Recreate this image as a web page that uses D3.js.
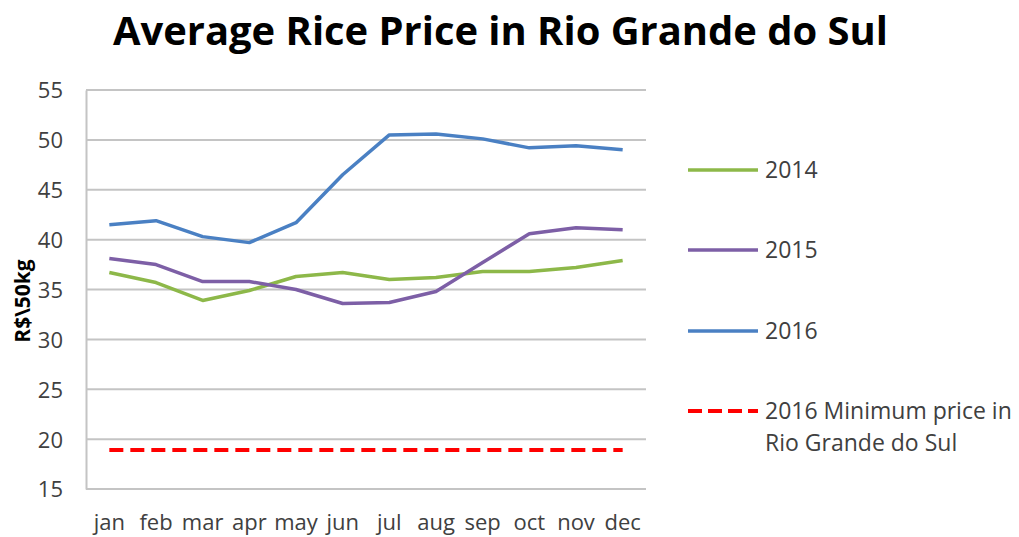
<!DOCTYPE html>
<html>
<head>
<meta charset="utf-8">
<script src="https://cdn.jsdelivr.net/npm/d3@7"></script>
<style>
  body { margin: 0; background: #fff; }
  svg text { font-family: "Open Sans", "DejaVu Sans", sans-serif; fill: #404040; }
</style>
</head>
<body>
<div id="chart"></div>
<script>
// data
var months = ["jan","feb","mar","apr","may","jun","jul","aug","sep","oct","nov","dec"];
var price2014 = [36.7, 35.7, 33.9, 34.9, 36.3, 36.7, 36.0, 36.2, 36.8, 36.8, 37.2, 37.9];
var price2015 = [38.1, 37.5, 35.8, 35.8, 35.0, 33.6, 33.7, 34.8, 37.7, 40.6, 41.2, 41.0];
var price2016 = [41.5, 41.9, 40.3, 39.7, 41.7, 46.5, 50.5, 50.6, 50.1, 49.2, 49.4, 49.0];
var minPrice2016 = [18.9, 18.9, 18.9, 18.9, 18.9, 18.9, 18.9, 18.9, 18.9, 18.9, 18.9, 18.9];
var yTicks = [15, 20, 25, 30, 35, 40, 45, 50, 55];

var series = [
  {name: "2014", values: price2014, color: "#8db849", dash: null},
  {name: "2015", values: price2015, color: "#7d5fa6", dash: null},
  {name: "2016", values: price2016, color: "#4a80c3", dash: null},
  {name: "2016 Minimum price in|Rio Grande do Sul", values: minPrice2016, color: "#ff0000", dash: "14,7"}
];

var width = 1019, height = 537;
var margin = {top: 90, bottom: 48, left: 86, right: 373};

var svg = d3.select('#chart').append("svg")
  .attr('width', width)
  .attr('height', height);

var xscale = d3.scaleBand()
  .domain(months)
  .range([margin.left, width - margin.right]);

var yscale = d3.scaleLinear()
  .domain([15, 55])
  .range([height - margin.bottom, margin.top]);

// title
svg.append("text")
  .attr("x", 113).attr("y", 45)
  .attr("textLength", 775).attr("lengthAdjust", "spacingAndGlyphs")
  .style("font-size", "40px").style("font-weight", "bold").style("fill", "#000")
  .text("Average Rice Price in Rio Grande do Sul");

// gridlines
svg.append("g")
  .selectAll("line").data(yTicks).enter().append("line")
  .attr("x1", margin.left).attr("x2", width - margin.right)
  .attr("y1", function(d){ return yscale(d); })
  .attr("y2", function(d){ return yscale(d); })
  .attr("stroke", "#c4c4c4").attr("stroke-width", 2);

// left axis
var yaxis = d3.axisLeft(yscale).tickValues(yTicks).tickSize(0).tickPadding(23);
var gy = svg.append("g").attr("transform", "translate(" + margin.left + ",0)").call(yaxis);
gy.select(".domain").attr("stroke", "#c4c4c4").attr("stroke-width", 2);
gy.selectAll("text").style("font-size", "22px").attr("dy", "0.36em");

// bottom axis
var xaxis = d3.axisBottom(xscale).tickSize(0).tickPadding(25);
var gx = svg.append("g").attr("transform", "translate(0," + (height - margin.bottom) + ")").call(xaxis);
gx.select(".domain").remove();
gx.selectAll("text").style("font-size", "22px");

// y axis title
svg.append("text")
  .attr("transform", "translate(30,301) rotate(-90)")
  .attr("text-anchor", "middle")
  .style("font-size", "21px").style("font-weight", "bold").style("fill", "#000")
  .text("R$\\50kg");

// lines
var line = d3.line()
  .x(function(d, i){ return xscale(months[i]) + xscale.bandwidth() / 2; })
  .y(function(d){ return yscale(d); });

svg.append("g").selectAll("path").data(series).enter().append("path")
  .attr("fill", "none")
  .attr("stroke", function(d){ return d.color; })
  .attr("stroke-width", function(d){ return d.dash ? 4 : 3.5; })
  .attr("stroke-dasharray", function(d){ return d.dash; })
  .attr("stroke-linejoin", "round")
  .attr("d", function(d){ return line(d.values); });

// legend
var legendY = [170, 250, 331, 411];
var lg = svg.append("g").selectAll("g").data(series).enter().append("g")
  .attr("transform", function(d, i){ return "translate(688," + legendY[i] + ")"; });
lg.append("line")
  .attr("x1", 0).attr("x2", 70)
  .attr("stroke", function(d){ return d.color; })
  .attr("stroke-width", function(d){ return d.dash ? 4 : 3.5; })
  .attr("stroke-dasharray", function(d){ return d.dash ? "14,6" : null; });
lg.each(function(d){
  var t = d3.select(this).append("text")
    .attr("x", 77).attr("y", 0)
    .style("font-size", "23px");
  d.name.split("|").forEach(function(s, k){
    t.append("tspan").attr("x", 77).attr("dy", k === 0 ? "0.36em" : "1.39em").text(s);
  });
});
</script>
</body>
</html>
